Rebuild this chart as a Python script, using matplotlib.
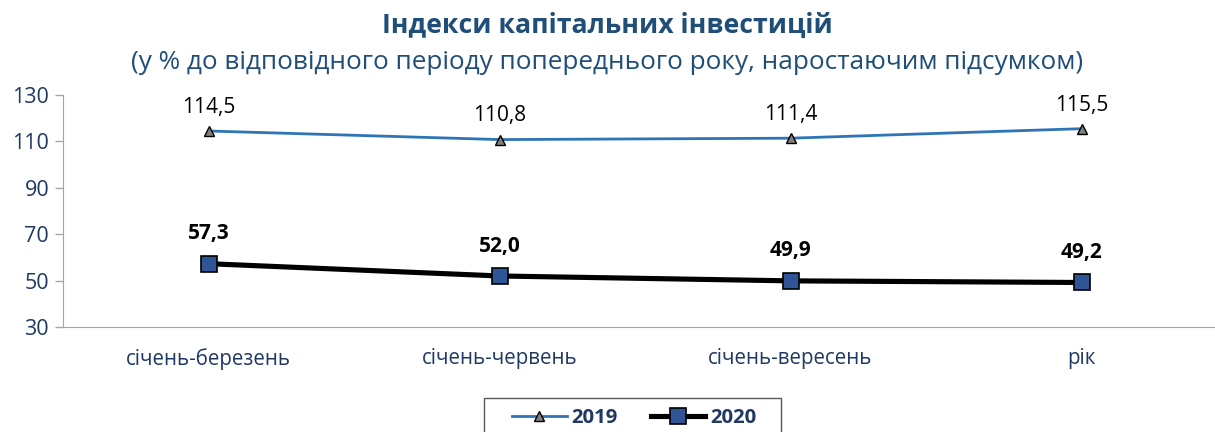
import matplotlib.pyplot as plt
from matplotlib.patches import Rectangle

categories = ['січень-березень', 'січень-червень', 'січень-вересень', 'рік']
values_2019 = [114.5, 110.8, 111.4, 115.5]
values_2020 = [57.3, 52.0, 49.9, 49.2]
yticks = [30, 50, 70, 90, 110, 130]

plt.rcParams['font.family'] = ['Open Sans', 'DejaVu Sans']
navy = '#1F3864'

fig = plt.figure(figsize=(12.15, 4.32), dpi=100)
ax = fig.add_axes([0.0519, 0.243, 0.958, 0.537])

x = range(len(categories))
ax.plot(x, values_2019, color='#2E75B6', linewidth=2, marker='^', markersize=7.5,
        markerfacecolor='#808080', markeredgecolor='black', markeredgewidth=1, label='2019')
ax.plot(x, values_2020, color='black', linewidth=3.7, marker='s', markersize=12,
        markerfacecolor='#2F5597', markeredgecolor='black', markeredgewidth=1.2, label='2020')

# value labels above the points
for i, v in enumerate(values_2019):
    ax.annotate(f'{v:.1f}'.replace('.', ','), (i, v), xytext=(0, 17), textcoords='offset points',
                ha='center', va='center', fontsize=15, color='black')
for i, v in enumerate(values_2020):
    ax.annotate(f'{v:.1f}'.replace('.', ','), (i, v), xytext=(0, 21.5), textcoords='offset points',
                ha='center', va='center', fontsize=15, color='black', fontweight='bold')

ax.set_xlim(-0.5, 3.5)
ax.set_ylim(30, 130)
ax.set_yticks(yticks)
ax.set_xticks(list(x))
ax.set_xticklabels(categories)
ax.tick_params(axis='y', colors='#A6A6A6', labelcolor=navy, labelsize=15.5, length=6, width=1, pad=4)
ax.tick_params(axis='x', length=0, labelcolor=navy, labelsize=14.8, pad=15)
for s in ['top', 'right']:
    ax.spines[s].set_visible(False)
ax.spines['left'].set_color('#A6A6A6')
ax.spines['bottom'].set_color('#A6A6A6')

fig.text(0.5, 0.94, 'Індекси капітальних інвестицій', ha='center', va='center',
         fontsize=19.2, fontweight='bold', color='#1F4E79')
fig.text(0.5, 0.856, '(у % до відповідного періоду попереднього року, наростаючим підсумком)',
         ha='center', va='center', fontsize=18.8, color='#1F4E79')

# legend without its own frame; the box is drawn separately (it runs off the bottom edge)
leg = fig.legend(loc='center', bbox_to_anchor=(0.522, 0.032), ncol=2, frameon=False,
                 prop={'weight': 'bold', 'size': 14.6},
                 handlelength=2.7, handletextpad=0.25, columnspacing=1.6, borderpad=0.3,
                 borderaxespad=0)
for t in leg.get_texts():
    t.set_color(navy)
fig.patches.append(Rectangle((0.398, -0.05), 0.245, 0.129, transform=fig.transFigure,
                             fill=False, edgecolor='#595959', linewidth=1))

fig.savefig('out.png', dpi=100)
